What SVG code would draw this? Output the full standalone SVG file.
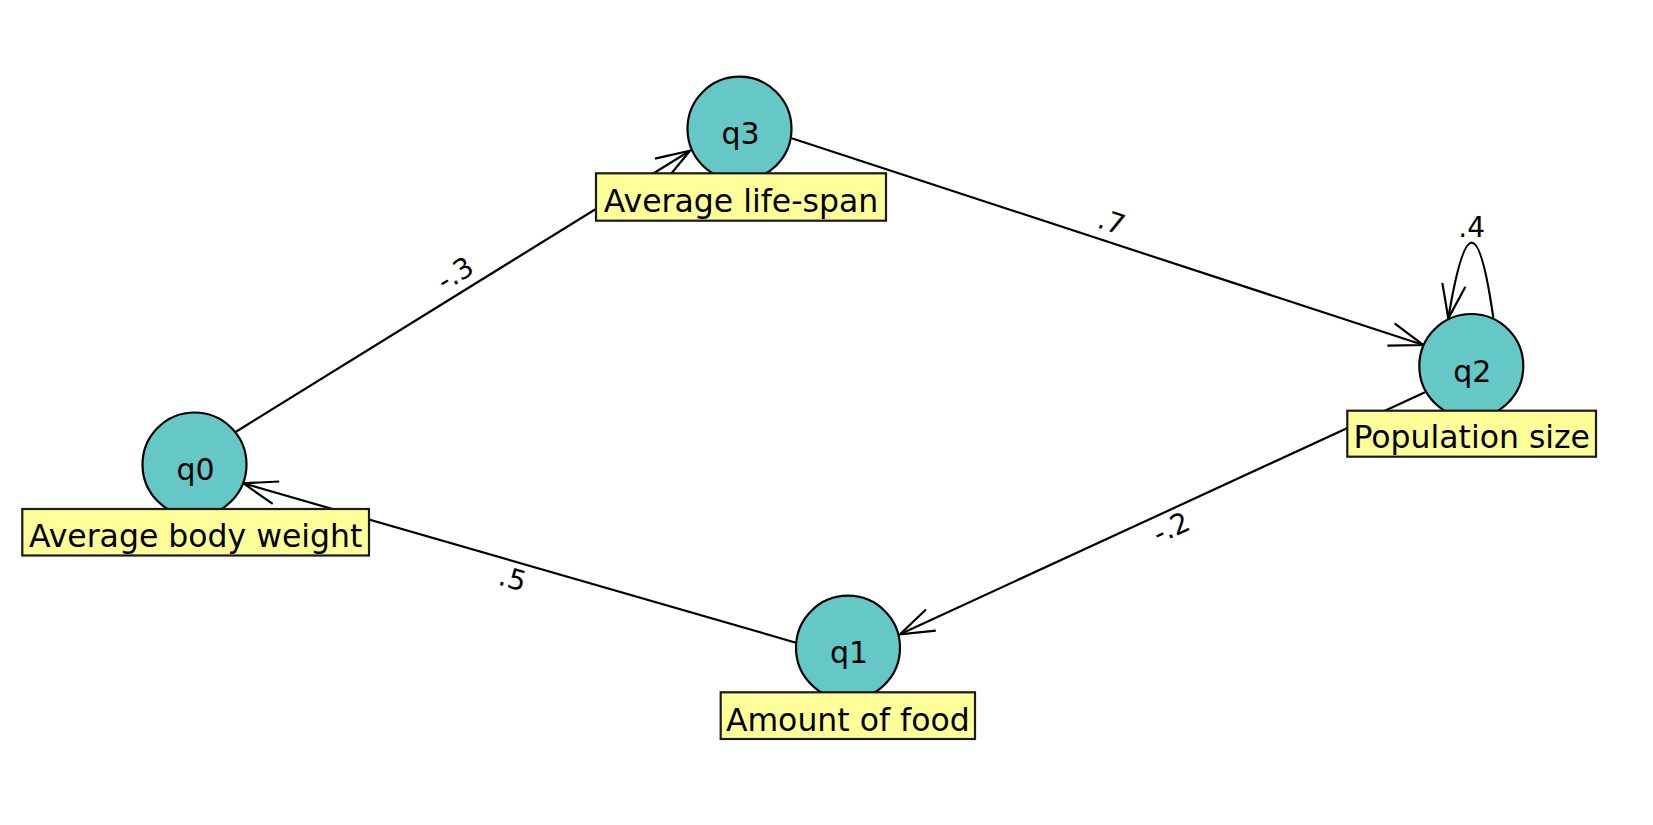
<svg xmlns="http://www.w3.org/2000/svg" width="1653" height="825" viewBox="0 0 1653 825">
<style>
.st{fill:#66c7c7;stroke:#000;stroke-width:2.2}
.lb{fill:#ffff99;stroke:#1a1a1a;stroke-width:2.2}
.nt{font-family:"DejaVu Sans",Verdana,sans-serif;font-size:30px;text-anchor:middle;fill:#000}
.bt{font-family:"DejaVu Sans",Verdana,sans-serif;font-size:31.5px;text-anchor:middle;fill:#000}
.et{font-family:"DejaVu Sans",Verdana,sans-serif;font-size:28px;text-anchor:middle;fill:#000}
.ed{fill:none;stroke:#000;stroke-width:2.2}
</style>
<defs>
<marker id="arr" markerUnits="userSpaceOnUse" orient="auto" refX="0" refY="0" markerWidth="80" markerHeight="80" viewBox="-40 -40 80 80" overflow="visible">
<path d="M-34,-11.7 L0,0 L-34,11.7" fill="none" stroke="#000" stroke-width="2.2"/>
</marker>
</defs>
<rect width="1653" height="825" fill="#fff"/>
<g id="connectors">
<path class="ed" d="M236,431.7 L690,150.7" marker-end="url(#arr)"/>
<path class="ed" d="M791.7,138.3 L1423.3,345" marker-end="url(#arr)"/>
<path class="ed" d="M1493.3,317.7 C1479,217.6 1465,217.6 1448.3,318.3" marker-end="url(#arr)"/>
<path class="ed" d="M1425,392.3 L900,634.3" marker-end="url(#arr)"/>
<path class="ed" d="M796,642.7 L243.3,483.3" marker-end="url(#arr)"/>
<text class="et" transform="translate(455,273.3) rotate(-31.75)" x="0" y="10">-.3</text>
<text class="et" transform="translate(1111.7,221.7) rotate(18.1)" x="0" y="10">.7</text>
<text class="et" x="1471.7" y="237">.4</text>
<text class="et" transform="translate(1171,527.3) rotate(-24.75)" x="0" y="10">-.2</text>
<text class="et" transform="translate(512.7,578.3) rotate(16.1)" x="0" y="10">.5</text>
</g>
<g id="q0">
<circle class="st" cx="194.5" cy="464.5" r="52"/>
<text class="nt" x="195.5" y="480">q0</text>
<rect class="lb" x="22.3" y="509" width="346.7" height="46.5"/>
<text class="bt" x="195.7" y="546.7">Average body weight</text>
</g>
<g id="q1">
<circle class="st" cx="848" cy="647.7" r="52"/>
<text class="nt" x="849" y="663">q1</text>
<rect class="lb" x="720.7" y="692.3" width="254.3" height="46.7"/>
<text class="bt" x="847.8" y="730.7">Amount of food</text>
</g>
<g id="q2">
<circle class="st" cx="1471.3" cy="366" r="52"/>
<text class="nt" x="1472.3" y="382">q2</text>
<rect class="lb" x="1347.3" y="410.7" width="248.7" height="46"/>
<text class="bt" x="1471.7" y="448">Population size</text>
</g>
<g id="q3">
<circle class="st" cx="739.5" cy="128.7" r="52"/>
<text class="nt" x="740.5" y="144">q3</text>
<rect class="lb" x="596" y="173.3" width="290" height="47.4"/>
<text class="bt" x="741" y="211.7">Average life-span</text>
</g>
</svg>
